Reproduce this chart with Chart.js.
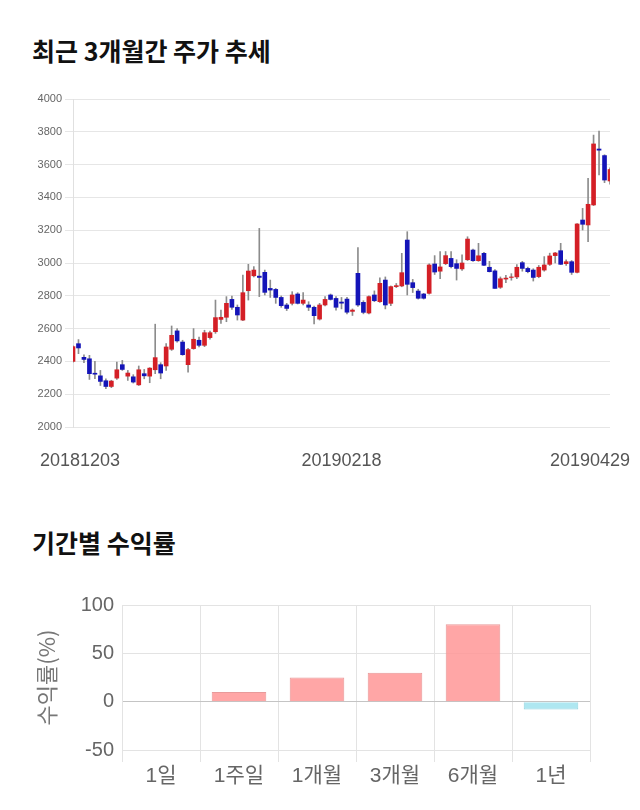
<!DOCTYPE html>
<html>
<head>
<meta charset="utf-8">
<script src="https://cdn.jsdelivr.net/npm/chart.js@4.4.1/dist/chart.umd.min.js"></script>
<style>
  html, body { margin: 0; padding: 0; background: #fff; }
  body { width: 640px; height: 810px; position: relative; overflow: hidden; }
  .title { position: absolute; left: 32px; font-family: "Noto Sans CJK KR", "Noto Sans", sans-serif; font-weight: bold; font-size: 25px; color: #111; line-height: 1; }
  canvas { position: absolute; left: 0; }
</style>
</head>
<body>
<div class="title" style="top:38px;">최근 3개월간 주가 추세</div>
<canvas id="c1" width="640" height="480" style="top:0px;"></canvas>
<div class="title" style="top:530px;">기간별 수익률</div>
<canvas id="c2" width="640" height="240" style="top:570px;"></canvas>
<script>
// ---- Candlestick data (trading days 2018-12-03 .. 2019-04-29) ----
const dates = [
  '20181203','20181204','20181205','20181206','20181207','20181210','20181211','20181212','20181213','20181214',
  '20181217','20181218','20181219','20181220','20181221','20181224','20181226','20181227','20181228',
  '20190102','20190103','20190104','20190107','20190108','20190109','20190110','20190111','20190114','20190115',
  '20190116','20190117','20190118','20190121','20190122','20190123','20190124','20190125','20190128','20190129',
  '20190130','20190131',
  '20190201','20190207','20190208','20190211','20190212','20190213','20190214','20190215','20190218','20190219',
  '20190220','20190221','20190222','20190225','20190226','20190227','20190228',
  '20190304','20190305','20190306','20190307','20190308','20190311','20190312','20190313','20190314','20190315',
  '20190318','20190319','20190320','20190321','20190322','20190325','20190326','20190327','20190328','20190329',
  '20190401','20190402','20190403','20190404','20190405','20190408','20190409','20190410','20190411','20190412',
  '20190415','20190416','20190417','20190418','20190419','20190422','20190423','20190424','20190425','20190426',
  '20190429'
];
const opens = [
  2400,2508,2425,2416,2328,2312,2282,2247,2298,2380,
  2310,2306,2257,2325,2310,2349,2380,2372,2474,2586,
  2518,2380,2478,2529,2498,2545,2581,2656,2669,2778,
  2730,2652,2831,2922,2920,2943,2845,2839,2790,2744,
  2754,2811,2754,2744,2730,2658,2744,2805,2784,2762,
  2780,2705,2937,2760,2695,2805,2764,2896,2754,2856,
  2860,3140,2880,2829,2811,2815,2994,2950,2996,3028,
  2996,2964,3020,3079,3014,3059,2974,2952,2852,2902,
  2912,2915,3002,2967,2957,2917,2957,2992,3045,3075,
  2996,3008,2943,3262,3232,3354,3695,3655,3500
];
const highs = [
  2495,2533,2440,2437,2400,2345,2294,2285,2396,2406,
  2345,2319,2372,2351,2362,2627,2392,2508,2616,2600,
  2529,2480,2600,2549,2590,2585,2774,2713,2795,2799,
  2744,2927,2992,2978,3211,2957,2896,2845,2799,2754,
  2825,2819,2819,2764,2738,2754,2795,2811,2795,2790,
  2790,2720,3094,2770,2800,2830,2910,2915,2860,2875,
  3059,3191,2900,2840,2815,2995,3045,3070,3070,3070,
  3020,3050,3160,3085,3120,3065,3010,2960,2915,2925,
  2935,2990,3010,2975,2965,2985,3039,3060,3065,3120,
  3020,3015,3240,3333,3516,3780,3805,3660,3580
];
const lows = [
  2395,2447,2392,2290,2294,2253,2233,2240,2290,2345,
  2284,2268,2253,2294,2270,2325,2294,2345,2467,2518,
  2437,2335,2474,2488,2490,2535,2571,2632,2642,2717,
  2652,2648,2774,2915,2795,2805,2790,2754,2730,2710,
  2744,2750,2744,2710,2628,2652,2738,2774,2713,2720,
  2690,2680,2735,2690,2690,2764,2760,2720,2740,2850,
  2855,2805,2820,2780,2780,2810,2930,2905,2990,2970,
  2896,2955,3015,3010,3010,2984,2945,2845,2845,2880,
  2895,2905,2950,2940,2890,2910,2950,2985,3000,2990,
  2985,2930,2940,3201,3130,3350,3537,3490,3480
];
const closes = [
  2490,2482,2412,2325,2322,2278,2247,2280,2349,2351,
  2329,2274,2349,2312,2359,2423,2329,2488,2559,2525,
  2441,2472,2535,2498,2575,2575,2667,2669,2754,2730,
  2683,2819,2951,2957,2912,2821,2835,2790,2740,2723,
  2805,2754,2774,2730,2679,2744,2778,2778,2730,2755,
  2700,2713,2744,2699,2795,2770,2876,2744,2856,2862,
  2941,2870,2850,2785,2785,2988,2945,2976,3045,2978,
  2967,3000,3146,3014,3044,2986,2947,2845,2904,2908,
  2915,2974,2967,2947,2912,2974,2988,3043,3061,2992,
  3008,2943,3238,3236,3358,3726,3688,3506,3570
];
const priceTicks = { min: 2000, max: 4000, step: 200 };
const xLabelIndex = [0, 49, 98];

// ---- Period returns data ----
const periods = ['1일', '1주일', '1개월', '3개월', '6개월', '1년'];
const returns = [0, 10, 25, 30, 80, -8];
const returnTicks = { min: -50, max: 100, step: 50 };

const RED = '#d41f26', BLUE = '#1414b8', WICK = '#8c8c8c';

const xLabelPlugin = {
  id: 'xLabels',
  afterDraw(chart) {
    const ctx = chart.ctx, xs = chart.scales.x;
    ctx.save();
    ctx.font = '18px "Liberation Sans", Arial, sans-serif';
    ctx.fillStyle = '#555';
    ctx.textAlign = 'center';
    ctx.textBaseline = 'middle';
    xLabelIndex.forEach(i => {
      const t = dates[i];
      const w = ctx.measureText(t).width;
      let x = xs.getPixelForValue(i);
      x = Math.max(40 + w / 2, Math.min(630 - w / 2, x));
      ctx.fillText(t, x, 461);
    });
    ctx.restore();
  }
};

new Chart(document.getElementById('c1'), {
  type: 'bar',
  data: {
    labels: dates,
    datasets: [
      {
        label: 'wick',
        data: dates.map((d, i) => [lows[i], highs[i]]),
        backgroundColor: WICK,
        barThickness: 1,
        grouped: false,
        order: 2,
        clip: 0
      },
      {
        label: 'body',
        data: dates.map((d, i) => [Math.min(opens[i], closes[i]), Math.max(opens[i], closes[i])]),
        backgroundColor: dates.map((d, i) => closes[i] >= opens[i] ? RED : BLUE),
        barThickness: 4,
        grouped: false,
        order: 1,
        clip: 0
      }
    ]
  },
  options: {
    responsive: false,
    animation: false,
    layout: { padding: { top: 99, right: 30, left: 0, bottom: 0 } },
    plugins: { legend: { display: false }, tooltip: { enabled: false } },
    scales: {
      x: {
        type: 'category',
        offset: false,
        grid: { display: false },
        border: { display: false },
        ticks: { display: false },
        afterFit: s => { s.height = 53; }
      },
      y: {
        min: priceTicks.min, max: priceTicks.max,
        ticks: { stepSize: priceTicks.step, color: '#666', font: { size: 11, family: '"Liberation Sans", Arial, sans-serif' }, padding: 3,
                 callback: v => String(v) },
        grid: { color: '#e6e6e6', tickLength: 8 },
        border: { color: '#e0e0e0' },
        afterFit: s => { s.width = 73; }
      }
    }
  },
  plugins: [xLabelPlugin]
});

new Chart(document.getElementById('c2'), {
  type: 'bar',
  data: {
    labels: periods,
    datasets: [{
      data: returns,
      backgroundColor: returns.map(v => v >= 0 ? 'rgba(255,150,150,0.85)' : 'rgba(170,230,240,0.95)'),
      borderColor: returns.map(v => v >= 0 ? '#e89a9a' : '#90d4e0'),
      borderWidth: 1,
      categoryPercentage: 0.8,
      barPercentage: 0.875
    }]
  },
  options: {
    responsive: false,
    animation: false,
    layout: { padding: { top: 35, right: 50, left: 33, bottom: 0 } },
    plugins: { legend: { display: false }, tooltip: { enabled: false } },
    scales: {
      x: {
        grid: { color: '#e3e3e3', tickLength: 12, offset: true },
        border: { color: '#e3e3e3' },
        ticks: { color: '#666', font: { size: 21, family: '"Liberation Sans", Arial, "Noto Sans CJK KR", sans-serif' }, padding: 2 },
        afterFit: s => { s.height = 60; }
      },
      y: {
        min: returnTicks.min, max: returnTicks.max,
        ticks: { stepSize: returnTicks.step, color: '#666', font: { size: 20, family: '"Liberation Sans", Arial, sans-serif' }, padding: 8 },
        grid: { color: ctx => ctx.tick && ctx.tick.value === 0 ? '#c4c4c4' : '#e3e3e3', drawTicks: false },
        border: { color: '#e3e3e3' },
        title: { display: true, text: '수익률(%)', color: '#777', font: { size: 22, family: '"Noto Sans CJK KR", sans-serif' }, padding: 0 },
        afterFit: s => { s.width = 89; }
      }
    }
  }
});
</script>
</body>
</html>
